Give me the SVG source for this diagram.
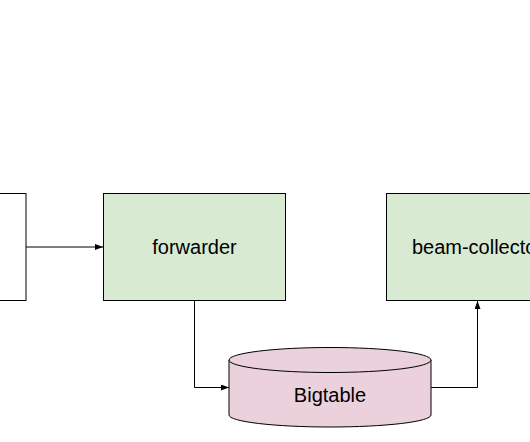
<svg xmlns="http://www.w3.org/2000/svg" width="530" height="442" viewBox="0 0 530 442">
  <style>
    .box { stroke: #000; stroke-width: 1; }
    .green { fill: #d9ead3; }
    .pink { fill: #ead1dc; }
    .lbl { font-family: "Liberation Sans", Arial, sans-serif; font-size: 20px; fill: #000; text-anchor: middle; dominant-baseline: central; }
    .conn { fill: none; stroke: #000; stroke-width: 1; }
  </style>
  <defs>
    <marker id="arr" viewBox="0 0 8 6" refX="8" refY="3" markerWidth="8" markerHeight="6" markerUnits="userSpaceOnUse" orient="auto">
      <path d="M0,0 L8,3 L0,6 Z" fill="#000"/>
    </marker>
  </defs>
  <rect width="530" height="442" fill="#fff"/>
  <g id="source">
    <rect class="box" x="-160" y="193.5" width="186" height="107" fill="#fff"/>
  </g>
  <g id="forwarder">
    <rect class="box green" x="103.5" y="193.5" width="182" height="107"/>
    <text class="lbl" x="194.5" y="247">forwarder</text>
  </g>
  <g id="beam-collector">
    <rect class="box green" x="386.5" y="193.5" width="182" height="107"/>
    <text class="lbl" x="477.5" y="247">beam-collector</text>
  </g>
  <g id="bigtable">
    <path class="box pink" d="M229,360 L229,415 A101,12 0 0 0 431,415 L431,360"/>
    <ellipse class="box pink" cx="330" cy="360" rx="101" ry="12.5"/>
    <text class="lbl" x="330" y="395">Bigtable</text>
  </g>
  <g id="connectors">
    <path class="conn" d="M26,247 L103,247" marker-end="url(#arr)"/>
    <path class="conn" d="M194.5,300.5 L194.5,387.5 L229,387.5" marker-end="url(#arr)"/>
    <path class="conn" d="M431,387.5 L477.5,387.5 L477.5,301" marker-end="url(#arr)"/>
  </g>
</svg>
